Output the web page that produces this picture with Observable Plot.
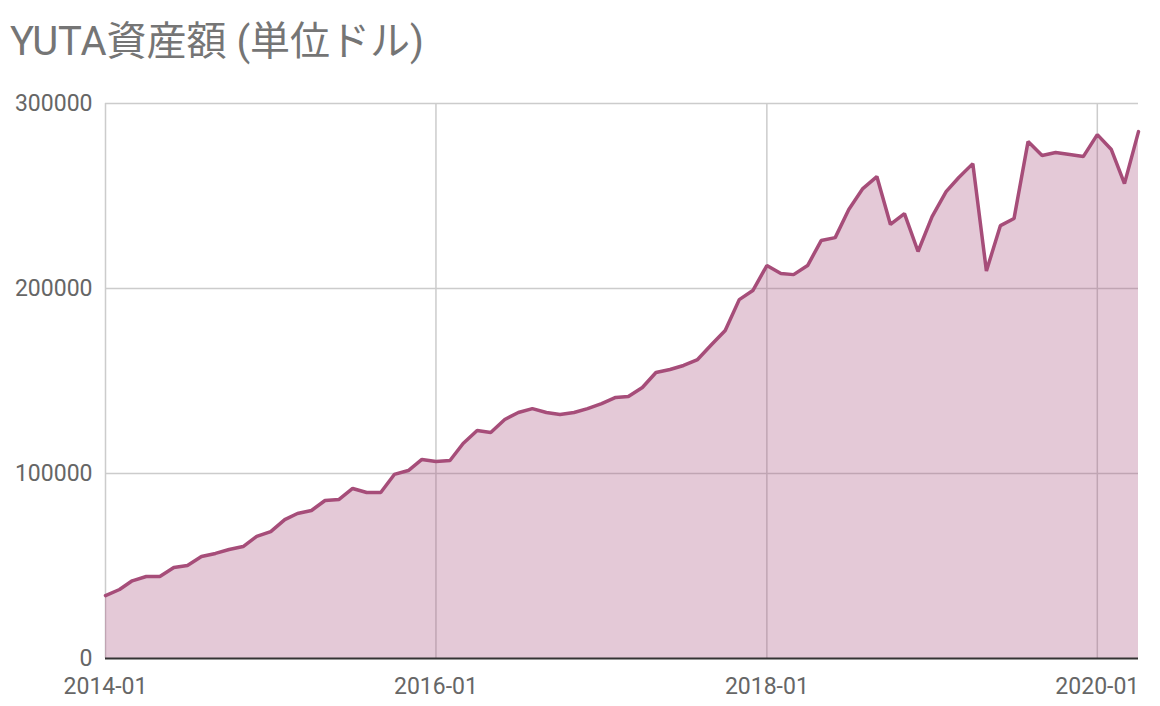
<!DOCTYPE html>
<html>
<head>
<meta charset="utf-8">
<script src="https://cdn.jsdelivr.net/npm/d3@7"></script>
<script src="https://cdn.jsdelivr.net/npm/@observablehq/plot@0.6"></script>
<style>
  body { margin: 0; background: #fff; font-family: Roboto, "Noto Sans CJK JP", sans-serif; }
  #wrap { width: 1160px; height: 706px; position: relative; overflow: hidden; }
  #title { height: 80px; box-sizing: border-box; padding-left: 10px; padding-top: 20px; font-size: 40px; line-height: 44px; color: #757575; white-space: nowrap; }
</style>
</head>
<body>
<div id="wrap">
  <div id="title">YUTA資産額 (単位ドル)</div>
  <div id="chart"></div>
</div>
<script>
const months = [
  "2014-01","2014-02","2014-03","2014-04","2014-05","2014-06","2014-07","2014-08","2014-09","2014-10","2014-11","2014-12",
  "2015-01","2015-02","2015-03","2015-04","2015-05","2015-06","2015-07","2015-08","2015-09","2015-10","2015-11","2015-12",
  "2016-01","2016-02","2016-03","2016-04","2016-05","2016-06","2016-07","2016-08","2016-09","2016-10","2016-11","2016-12",
  "2017-01","2017-02","2017-03","2017-04","2017-05","2017-06","2017-07","2017-08","2017-09","2017-10","2017-11","2017-12",
  "2018-01","2018-02","2018-03","2018-04","2018-05","2018-06","2018-07","2018-08","2018-09","2018-10","2018-11","2018-12",
  "2019-01","2019-02","2019-03","2019-04","2019-05","2019-06","2019-07","2019-08","2019-09","2019-10","2019-11","2019-12",
  "2020-01","2020-02","2020-03","2020-04"
];
const assets = [
  34000, 37300, 42000, 44300, 44300, 49200, 50300, 55100, 56800, 58900, 60500, 66000,
  68600, 75100, 78400, 80000, 85400, 86000, 91900, 89700, 89700, 99500, 101600, 107600,
  106500, 107000, 116200, 123200, 122200, 129200, 133000, 135100, 133000, 131900, 133000, 135100,
  137800, 141100, 141600, 146500, 154600, 156200, 158400, 161600, 169700, 177300, 194000, 198900,
  212400, 208100, 207500, 212400, 225900, 227500, 242700, 254000, 260500, 234600, 240500, 220000,
  238900, 252400, 260000, 267500, 209500, 234000, 237800, 279400, 271900, 273500, 272400, 271300,
  283200, 275100, 256700, 284800
];
const yTicks = [0, 100000, 200000, 300000];
const xTickLabels = ["2014-01", "2016-01", "2018-01", "2020-01"];

const parse = d3.utcParse("%Y-%m");
const data = months.map((m, i) => ({date: parse(m), value: assets[i]}));
const xTicks = xTickLabels.map(parse);
const lineColor = "#a64d79";

const chart = Plot.plot({
  width: 1160,
  height: 626,
  marginTop: 23,
  marginBottom: 48,
  marginLeft: 105,
  marginRight: 22,
  style: {fontFamily: "Roboto, 'Noto Sans CJK JP', sans-serif", fontSize: "23px", color: "#666", background: "#fff", overflow: "visible"},
  x: {type: "utc", domain: [parse(months[0]), parse(months[months.length - 1])]},
  y: {domain: [0, 300000]},
  marks: [
    Plot.ruleX(xTicks, {stroke: "#cccccc", strokeWidth: 1.5}),
    Plot.ruleY(yTicks.filter(d => d > 0), {stroke: "#cccccc", strokeWidth: 1.5}),
    Plot.areaY(data, {x: "date", y: "value", fill: lineColor, fillOpacity: 0.3}),
    Plot.lineY(data, {x: "date", y: "value", stroke: lineColor, strokeWidth: 3.5, strokeLinejoin: "miter"}),
    Plot.ruleY([0], {stroke: "#333", strokeWidth: 2}),
    Plot.axisY({ticks: yTicks, tickFormat: d => String(d), tickSize: 0, tickPadding: 13, label: null, fill: "#666", fontSize: 23}),
    Plot.axisX({ticks: xTicks, tickFormat: d3.utcFormat("%Y-%m"), tickSize: 0, tickPadding: 19, label: null, fill: "#666", fontSize: 23})
  ]
});
document.getElementById("chart").appendChild(chart);
</script>
</body>
</html>
